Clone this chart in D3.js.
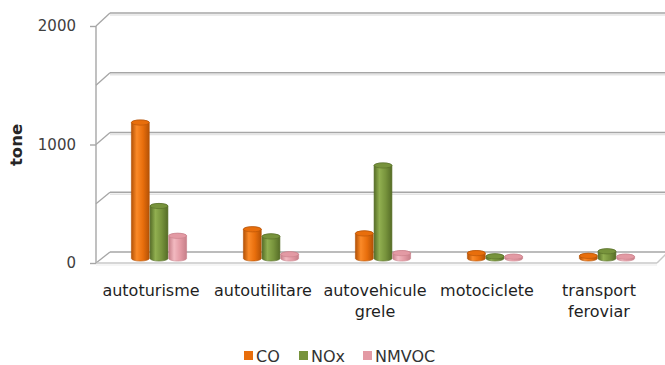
<!DOCTYPE html>
<html>
<head>
<meta charset="utf-8">
<script src="https://cdn.jsdelivr.net/npm/d3@7"></script>
<style>
  html, body { margin: 0; padding: 0; background: #ffffff; }
  svg { display: block; }
  text { font-family: "DejaVu Sans", sans-serif; }
</style>
</head>
<body>
<div id="chart"></div>
<script>
// ---- data ----
const categories = ["autoturisme", "autoutilitare", "autovehicule grele", "motociclete", "transport feroviar"];
const seriesNames = ["CO", "NOx", "NMVOC"];
const coValues = [1140, 245, 210, 45, 22];
const noxValues = [440, 185, 780, 18, 60];
const nmvocValues = [190, 35, 45, 15, 15];
const yTickValues = [0, 1000, 2000];
const yGridValues = [0, 500, 1000, 1500, 2000];
const yTitle = "tone";

const seriesValues = [coValues, noxValues, nmvocValues];
const colors = {
  CO:    { base: "#E86E0C", dark: "#b45206", light: "#fb8a28" },
  NOx:   { base: "#77933C", dark: "#566d27", light: "#91af50" },
  NMVOC: { base: "#E39AA4", dark: "#c77f89", light: "#f2b9c0" }
};

const W = 665, H = 365;
const svg = d3.select("#chart").append("svg").attr("width", W).attr("height", H);
const defs = svg.append("defs");

// 3D geometry: front plane, back plane, middle plane (bars)
const depthDx = 14;
const frontLeft = 96, frontRight = 657;
const yFront = d3.scaleLinear().domain([0, 2000]).range([263, 26]);
const yBack  = d3.scaleLinear().domain([0, 2000]).range([252, 13]);
const yMid   = d3.scaleLinear().domain([0, 2000]).range([258.5, 20]);

const x0 = d3.scaleBand().domain(categories).range([103, 663]).paddingInner(0.5).paddingOuter(0.25);
const x1 = d3.scaleBand().domain(seriesNames).range([0, x0.bandwidth()]);

// ---- walls / gridlines ----
const grid = svg.append("g");
yGridValues.forEach(v => {
  const yb = yBack(v), yf = yFront(v);
  if (v === 0) return;
  grid.append("line").attr("x1", frontLeft + depthDx).attr("x2", W)
    .attr("y1", yb + 2).attr("y2", yb + 2).attr("stroke", "#e4e4e4").attr("stroke-width", 1.5);
  grid.append("line").attr("x1", frontLeft + depthDx).attr("x2", W)
    .attr("y1", yb).attr("y2", yb).attr("stroke", "#a6a6a6").attr("stroke-width", 1.6);
  grid.append("line").attr("x1", frontLeft).attr("x2", frontLeft + depthDx)
    .attr("y1", yf).attr("y2", yb).attr("stroke", "#a6a6a6").attr("stroke-width", 1.3);
});

// floor
const floorG = svg.append("g");
floorG.append("line").attr("x1", frontLeft + depthDx).attr("x2", W)
  .attr("y1", yBack(0)).attr("y2", yBack(0)).attr("stroke", "#a6a6a6").attr("stroke-width", 1.6);
floorG.append("line").attr("x1", frontLeft).attr("x2", frontLeft + depthDx)
  .attr("y1", yFront(0)).attr("y2", yBack(0)).attr("stroke", "#a6a6a6").attr("stroke-width", 1.3);
floorG.append("line").attr("x1", frontLeft).attr("x2", frontRight)
  .attr("y1", yFront(0)).attr("y2", yFront(0)).attr("stroke", "#c8c8c8").attr("stroke-width", 1.6);
floorG.append("line").attr("x1", frontLeft).attr("x2", frontRight)
  .attr("y1", yFront(0) + 2).attr("y2", yFront(0) + 2).attr("stroke", "#ececec").attr("stroke-width", 1.2);
floorG.append("line").attr("x1", frontRight).attr("x2", frontRight + 11)
  .attr("y1", yFront(0)).attr("y2", yBack(0)).attr("stroke", "#c8c8c8").attr("stroke-width", 1.4);

// front vertical axis
svg.append("line").attr("x1", frontLeft).attr("x2", frontLeft)
  .attr("y1", yFront(2000)).attr("y2", yFront(0)).attr("stroke", "#a6a6a6").attr("stroke-width", 1.4);
const yAxis = d3.axisLeft(yFront).tickValues(yTickValues).tickSize(6).tickPadding(14).tickFormat(d3.format("d"));
const yAxisG = svg.append("g").attr("transform", `translate(${frontLeft},0)`).call(yAxis);
yAxisG.select(".domain").remove();
yAxisG.selectAll(".tick line").attr("stroke", "#a6a6a6").attr("stroke-width", 1.4);
yAxisG.selectAll(".tick text").attr("font-size", 15).attr("fill", "#404040")
  .attr("font-family", "DejaVu Sans, sans-serif");

// y title
svg.append("text").attr("transform", "translate(22,145) rotate(-90)")
  .attr("text-anchor", "middle").attr("font-size", 16.5).attr("font-weight", "bold")
  .attr("fill", "#262626").text(yTitle);

// ---- bars (cylinders) ----
seriesNames.forEach(s => {
  const c = colors[s];
  const g = defs.append("linearGradient").attr("id", "grad-" + s)
    .attr("x1", "0%").attr("x2", "100%").attr("y1", "0%").attr("y2", "0%");
  g.append("stop").attr("offset", "0%").attr("stop-color", c.dark);
  g.append("stop").attr("offset", "30%").attr("stop-color", c.light);
  g.append("stop").attr("offset", "65%").attr("stop-color", c.base);
  g.append("stop").attr("offset", "100%").attr("stop-color", c.dark);
});

const barsG = svg.append("g");
const ry = 2.6;
categories.forEach((cat, ci) => {
  seriesNames.forEach((s, si) => {
    const v = seriesValues[si][ci];
    const bx = x0(cat) + x1(s) + 0.4;
    const bw = x1.bandwidth() - 0.8;
    const yTop = yMid(v);
    const yBase = yMid(0);
    const c = colors[s];
    const path = `M${bx},${yTop} L${bx},${yBase} A${bw/2},${ry} 0 0 0 ${bx+bw},${yBase} L${bx+bw},${yTop} A${bw/2},${ry} 0 0 0 ${bx},${yTop} Z`;
    barsG.append("path").attr("d", path).attr("fill", `url(#grad-${s})`)
      .attr("stroke", c.dark).attr("stroke-width", 0.6);
    barsG.append("ellipse").attr("cx", bx + bw / 2).attr("cy", yTop).attr("rx", bw / 2).attr("ry", ry)
      .attr("fill", c.base).attr("stroke", c.dark).attr("stroke-width", 0.6);
  });
});

// ---- category labels ----
const labelG = svg.append("g");
categories.forEach(cat => {
  const cx = x0(cat) + x0.bandwidth() / 2 - 8;
  const words = cat.split(" ");
  const t = labelG.append("text").attr("x", cx).attr("y", 296).attr("text-anchor", "middle")
    .attr("font-size", 16).attr("fill", "#1f1f1f");
  words.forEach((w, i) => {
    t.append("tspan").attr("x", cx).attr("dy", i === 0 ? 0 : 21).text(w);
  });
});

// ---- legend ----
const legendItems = [
  { name: "CO", x: 244 },
  { name: "NOx", x: 299 },
  { name: "NMVOC", x: 363 }
];
const legG = svg.append("g");
legendItems.forEach(it => {
  legG.append("rect").attr("x", it.x).attr("y", 351).attr("width", 9).attr("height", 9)
    .attr("fill", colors[it.name].base);
  legG.append("text").attr("x", it.x + 12).attr("y", 356).attr("dy", "0.35em")
    .attr("font-size", 16).attr("fill", "#333333").text(it.name);
});
</script>
</body>
</html>
